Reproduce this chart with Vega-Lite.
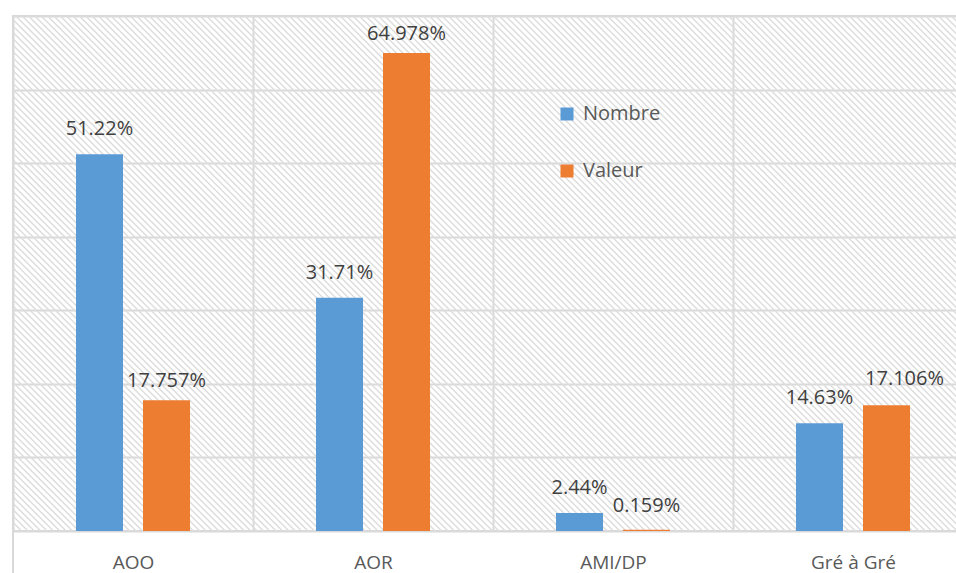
{
  "$schema": "https://vega.github.io/schema/vega-lite/v6.json",
  "width": 960,
  "height": 515,
  "autosize": {"type": "none"},
  "padding": {"left": 13, "top": 16, "right": 0, "bottom": 42},
  "background": "white",
  "config": {
    "font": "Open Sans",
    "view": {"stroke": "#d9d9d9", "strokeWidth": 2, "fill": "white"}
  },
  "data": {
    "values": [
      {"procedure": "AOO", "serie": "Nombre", "part": 0.5122},
      {"procedure": "AOO", "serie": "Valeur", "part": 0.17757},
      {"procedure": "AOR", "serie": "Nombre", "part": 0.3171},
      {"procedure": "AOR", "serie": "Valeur", "part": 0.64978},
      {"procedure": "AMI/DP", "serie": "Nombre", "part": 0.0244},
      {"procedure": "AMI/DP", "serie": "Valeur", "part": 0.00159},
      {"procedure": "Gré à Gré", "serie": "Nombre", "part": 0.1463},
      {"procedure": "Gré à Gré", "serie": "Valeur", "part": 0.17106}
    ]
  },
  "layer": [
    {
      "description": "diagonal hatching: one wide dashed stroke laid at 45 degrees across the plot",
      "data": {"values": [{}]},
      "mark": {
        "type": "point",
        "shape": "M -1 1 L 1 -1",
        "size": 3240000,
        "filled": false,
        "stroke": "#dedede",
        "strokeWidth": 1600,
        "strokeDash": [1.5, 3.0],
        "strokeCap": "butt",
        "opacity": 1,
        "clip": true
      },
      "encoding": {
        "x": {"datum": "AOR", "title": null},
        "y": {"datum": 0.35, "title": null}
      }
    },
    {
      "description": "left frame edge running down past the category labels",
      "data": {"values": [{}]},
      "mark": {"type": "rule", "stroke": "#d9d9d9", "strokeWidth": 2, "clip": false},
      "encoding": {
        "x": {"datum": "AOO", "bandPosition": 0, "title": null},
        "y": {"datum": 0.7, "title": null},
        "y2": {"datum": -0.06}
      }
    },
    {
      "encoding": {
        "x": {
          "field": "procedure",
          "type": "nominal",
          "scale": {
            "domain": ["AOO", "AOR", "AMI/DP", "Gré à Gré"],
            "paddingInner": 0,
            "paddingOuter": 0
          },
          "axis": {
            "title": null,
            "domain": false,
            "ticks": false,
            "tickSize": 0,
            "tickBand": "extent",
            "grid": true,
            "gridColor": "#d9d9d9",
            "gridWidth": 2,
            "labelAngle": 0,
            "labelAlign": "center",
            "labelFontSize": 19,
            "labelColor": "#595959",
            "labelPadding": 37,
            "labelBaseline": "alphabetic"
          }
        },
        "y": {
          "field": "part",
          "type": "quantitative",
          "scale": {"domain": [0, 0.7], "nice": false, "zero": true},
          "axis": {
            "title": null,
            "values": [0, 0.1, 0.2, 0.3, 0.4, 0.5, 0.6, 0.7],
            "labels": false,
            "ticks": false,
            "domain": false,
            "grid": true,
            "gridColor": "#d9d9d9",
            "gridWidth": 2
          }
        },
        "xOffset": {
          "field": "serie",
          "sort": ["Nombre", "Valeur"],
          "scale": {"paddingInner": 0.2985, "paddingOuter": 0.94}
        }
      },
      "layer": [
        {
          "mark": {"type": "bar"},
          "encoding": {
            "color": {
              "field": "serie",
              "type": "nominal",
              "scale": {"domain": ["Nombre", "Valeur"], "range": ["#5B9BD5", "#ED7D31"]},
              "legend": {
                "title": null,
                "orient": "none",
                "legendX": 544,
                "legendY": 88,
                "direction": "vertical",
                "symbolType": "square",
                "symbolSize": 169,
                "symbolStrokeWidth": 0,
                "labelFontSize": 20,
                "labelColor": "#595959",
                "labelOffset": 6,
                "rowPadding": 37,
                "padding": 0
              }
            }
          }
        },
        {
          "transform": [{"filter": "datum.serie === 'Nombre'"}],
          "mark": {"type": "text", "dy": -19, "fontSize": 20, "color": "#404040", "baseline": "alphabetic"},
          "encoding": {
            "text": {"field": "part", "type": "quantitative", "format": ".2%"}
          }
        },
        {
          "transform": [{"filter": "datum.serie === 'Valeur' && (datum.procedure === 'AOO' || datum.procedure === 'AOR')"}],
          "mark": {"type": "text", "dy": -13, "fontSize": 20, "color": "#404040", "baseline": "alphabetic"},
          "encoding": {
            "text": {"field": "part", "type": "quantitative", "format": ".3%"}
          }
        },
        {
          "transform": [{"filter": "datum.serie === 'Valeur' && datum.procedure === 'AMI/DP'"}],
          "mark": {"type": "text", "dy": -18, "fontSize": 20, "color": "#404040", "baseline": "alphabetic"},
          "encoding": {
            "text": {"field": "part", "type": "quantitative", "format": ".3%"}
          }
        },
        {
          "transform": [{"filter": "datum.serie === 'Valeur' && datum.procedure === 'Gré à Gré'"}],
          "mark": {"type": "text", "dy": -20, "dx": 18, "fontSize": 20, "color": "#404040", "baseline": "alphabetic"},
          "encoding": {
            "text": {"field": "part", "type": "quantitative", "format": ".3%"}
          }
        }
      ]
    }
  ]
}
